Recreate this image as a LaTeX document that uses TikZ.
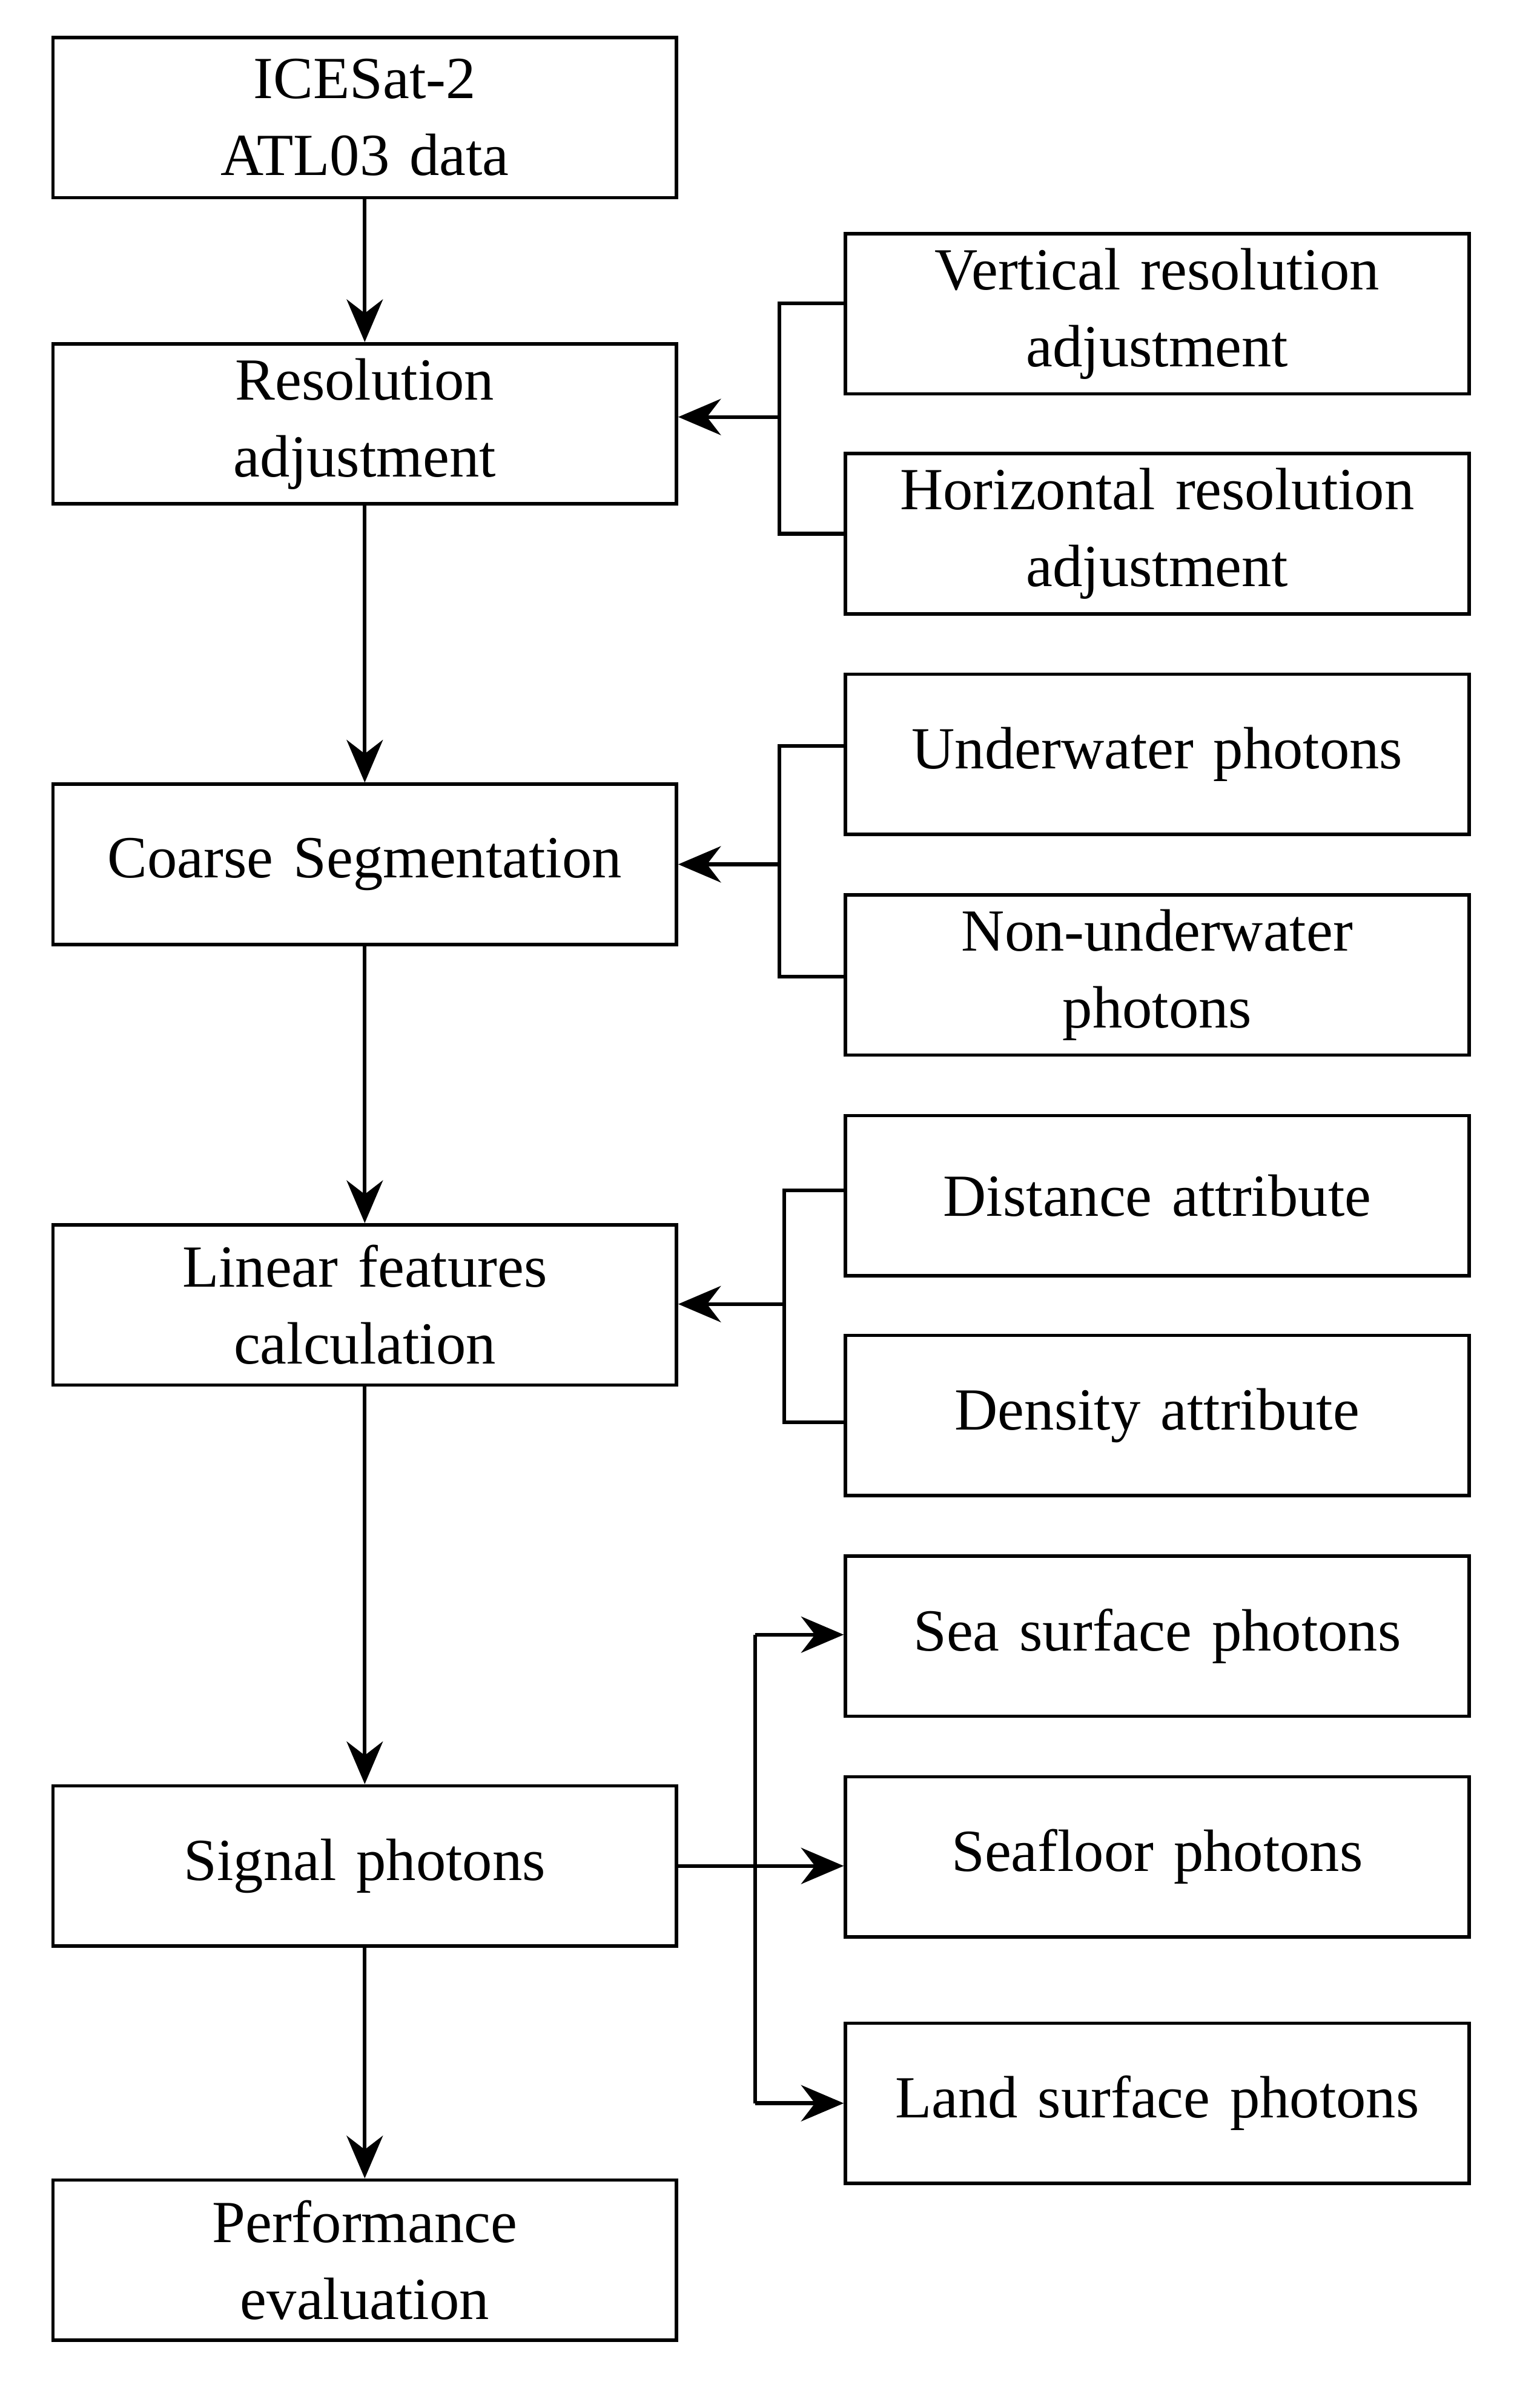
\documentclass[tikz,border=0pt]{standalone}
\usepackage{fontspec}
\setmainfont{Liberation Serif}
\usetikzlibrary{%
	positioning,
	calc,
	arrows.meta
}

\begin{document}
\begin{tikzpicture}[x=0.025cm,y=-0.025cm,
		SBox/.style={draw,line width=1.6pt,shape=rectangle,minimum width=10.275cm,minimum height=2.64cm,text width=10cm,align=center,font=\fontsize{28}{36}\selectfont,inner sep=0pt},
		link/.style={line width=1.8pt},
		arr/.style={link,-{Stealth[length=20pt,width=17pt]}}
	]
	\useasboundingbox (0,0) rectangle (1000,1588);
	
		%left column
		\node (ice) [SBox] at (240.5,77.5) {ICESat-2\\ATL03 data};
		\node (res) [SBox] at (240.5,279.5) {Resolution\\adjustment};
		\node (coarse) [SBox] at (240.5,570) {Coarse Segmentation};
		\node (lin) [SBox] at (240.5,860.5) {Linear features\\calculation};
		\node (sig) [SBox] at (240.5,1230.5) {Signal photons};
		\node (perf) [SBox] at (240.5,1490.5) {Performance\\evaluation};
		
		%right column
		\node (vert) [SBox] at (763,207) {Vertical resolution\\adjustment};
		\node (hori) [SBox] at (763,352) {Horizontal resolution\\adjustment};
		\node (under) [SBox] at (763,497.5) {Underwater photons};
		\node (nonunder) [SBox] at (763,643) {Non-underwater\\photons};
		\node (dist) [SBox] at (763,788.5) {Distance attribute};
		\node (dens) [SBox] at (763,933.5) {Density attribute};
		\node (sea) [SBox] at (763,1079) {Sea surface photons};
		\node (floor) [SBox] at (763,1224.5) {Seafloor photons};
		\node (land) [SBox] at (763,1387) {Land surface photons};
		
		\draw [arr] (ice) -- (res);
		\draw [arr] (res) -- (coarse);
		\draw [arr] (coarse) -- (lin);
		\draw [arr] (lin) -- (sig);
		\draw [arr] (sig) -- (perf);
		
		%brackets
		\coordinate (b1) at (514,275);
		\draw [link] (vert.west |- 0,200) -| (514,352) -- (hori.west |- 0,352);
		\draw [arr] (b1) -- (res.east |- b1);
		\coordinate (b2) at (514,570);
		\draw [link] (under.west |- 0,492) -| (514,644) -- (nonunder.west |- 0,644);
		\draw [arr] (b2) -- (coarse.east |- b2);
		\coordinate (b3) at (517,860);
		\draw [link] (dist.west |- 0,785) -| (517,938) -- (dens.west |- 0,938);
		\draw [arr] (b3) -- (lin.east |- b3);
		
		\draw [arr] (sig.east) -- (floor.west |- sig.east);
		\draw [link] (498,1078) -- (498,1387);
		\draw [arr] (498,1078) -- (sea.west |- 0,1078);
		\draw [arr] (498,1387) -- (land.west |- 0,1387);
\end{tikzpicture}
\end{document}
